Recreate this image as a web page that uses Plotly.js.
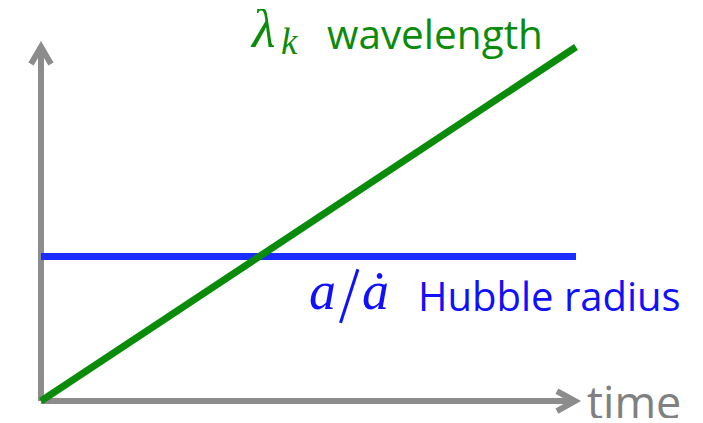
<!DOCTYPE html>
<html>
<head>
<meta charset="utf-8">
<script src="https://cdn.plot.ly/plotly-3.0.1.min.js"></script>
<style>
html,body{margin:0;padding:0;background:#fff;}
#chart{width:703px;height:423px;}
</style>
</head>
<body>
<div id="chart"></div>
<script>
// Data (arbitrary units)
const time = [0, 10];
const wavelength = [0, 10];
const hubbleRadius = [4.08, 4.08];
const labels = {
  wavelength: 'wavelength',
  hubble: 'Hubble radius',
  time: 'time'
};

const W = 703, H = 423;
const px = v => v / W;
const py = v => 1 - v / H;

const green = '#0a8c0a', blue = '#1a2cff', textBlue = '#1010ff', gray = '#8c8c8c';

const traces = [
  {x: time, y: hubbleRadius, mode: 'lines', line: {color: blue, width: 7}, hoverinfo: 'skip'},
  {x: time, y: wavelength, mode: 'lines', line: {color: green, width: 7}, hoverinfo: 'skip'}
];

const serif = 'Liberation Serif, DejaVu Serif, serif';
const sans = 'Open Sans, sans-serif';
const ann = (x, y, text, family, size, color, extra) => Object.assign({
  xref: 'paper', yref: 'paper', x: px(x), y: py(y), xanchor: 'left', yanchor: 'bottom',
  showarrow: false, borderpad: 0, text: text, font: {family: family, size: size, color: color}
}, extra || {});

const layout = {
  width: W, height: H,
  margin: {l: 0, r: 0, t: 0, b: 0},
  paper_bgcolor: '#fff', plot_bgcolor: '#fff',
  showlegend: false,
  xaxis: {visible: false, range: [-0.766, 12.374], fixedrange: true},
  yaxis: {visible: false, range: [-0.621, 11.328], fixedrange: true},
  shapes: [
    {type: 'line', x0: 0, y0: 0, x1: 0, y1: 10.0, line: {color: gray, width: 6}, layer: 'below'},
    {type: 'line', x0: 0, y0: 0, x1: 9.98, y1: 0, line: {color: gray, width: 6}, layer: 'below'},
    {type: 'path', xsizemode: 'pixel', ysizemode: 'pixel', xanchor: 0, yanchor: 10.0,
     path: 'M -10,-17 L 0,0 L 10,-17', line: {color: gray, width: 6}, layer: 'below'},
    {type: 'path', xsizemode: 'pixel', ysizemode: 'pixel', xanchor: 9.98, yanchor: 0,
     path: 'M -18,10 L 0,0 L -18,-10', line: {color: gray, width: 6}, layer: 'below'}
  ],
  annotations: [
    ann(249, 29, '<i>λ</i>', serif, 54, green, {yanchor: 'middle', height: 40, valign: 'middle'}),
    ann(280, 63, '<i>k</i>', serif, 37, green),
    ann(326, 62, labels.wavelength, sans, 40.5, green),
    ann(308, 321.7, '<i>a</i>', serif, 54, textBlue),
    ann(350.8, 289.8, '|', serif, 62, textBlue, {xanchor: 'center', yanchor: 'middle', textangle: 18}),
    ann(361, 321.7, '<i>ȧ</i>', serif, 54, textBlue),
    ann(417, 323.8, labels.hubble, sans, 40, textBlue),
    ann(586, 400.6, labels.time, sans, 45, '#808080', {yanchor: 'middle', height: 34, valign: 'middle'})
  ]
};

Plotly.newPlot('chart', traces, layout, {staticPlot: true, displayModeBar: false});
</script>
</body>
</html>
